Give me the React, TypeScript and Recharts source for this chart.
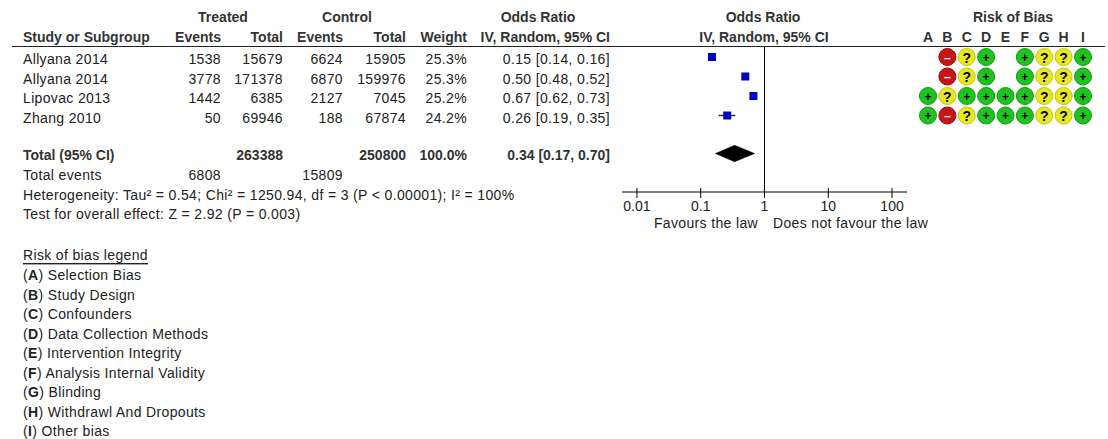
import React from "react";
import { ErrorBar, ReferenceLine, Scatter, ScatterChart, XAxis, YAxis } from "recharts";

// study rows
const studyNames = ["Allyana 2014", "Allyana 2014", "Lipovac 2013", "Zhang 2010"];
const treatedEvents = [1538, 3778, 1442, 50];
const treatedTotal = [15679, 171378, 6385, 69946];
const controlEvents = [6624, 6870, 2127, 188];
const controlTotal = [15905, 159976, 7045, 67874];
const weightPct = [25.3, 25.3, 25.2, 24.2];
const oddsRatio = [0.15, 0.5, 0.67, 0.26];
const ciLower = [0.14, 0.48, 0.62, 0.19];
const ciUpper = [0.16, 0.52, 0.73, 0.35];

// pooled
const pooledOR = 0.34;
const pooledLower = 0.17;
const pooledUpper = 0.7;
const totalTreated = 263388;
const totalControl = 250800;
const totalWeight = 100;
const eventsTreated = 6808;
const eventsControl = 15809;
const heterogeneityText =
  "Heterogeneity: Tau² = 0.54; Chi² = 1250.94, df = 3 (P < 0.00001); I² = 100%";
const overallEffectText = "Test for overall effect: Z = 2.92 (P = 0.003)";

const axisTicks = [0.01, 0.1, 1, 10, 100];

const biasDomains = ["A", "B", "C", "D", "E", "F", "G", "H", "I"];
const biasRatings = [
  ["", "-", "?", "+", "", "+", "?", "?", "+"],
  ["", "-", "?", "+", "", "+", "?", "?", "+"],
  ["+", "?", "+", "+", "+", "+", "?", "?", "+"],
  ["+", "-", "?", "+", "+", "+", "?", "?", "+"],
];
const legendItems = [
  ["A", "Selection Bias"],
  ["B", "Study Design"],
  ["C", "Confounders"],
  ["D", "Data Collection Methods"],
  ["E", "Intervention Integrity"],
  ["F", "Analysis Internal Validity"],
  ["G", "Blinding"],
  ["H", "Withdrawl And Dropouts"],
  ["I", "Other bias"],
];

const W = 1108;
const H = 439;
const FONT = '"Liberation Sans", Arial, sans-serif';
const TEXT = "#222";
const HEAD = "#333";

// plot box (pixels) and row scale
const PLOT_TOP = 47;
const PLOT_BOTTOM = 192;
const PLOT_LEFT = 622;
const PLOT_RIGHT = 907;
const ROW_DOMAIN: [number, number] = [-0.513, 6.923];
const TOTAL_ROW = 4.95;
const X_DOMAIN: [number, number] = [0.00583, 171.6];

const studyPoints = oddsRatio.map((v, i) => ({
  or: v,
  row: i,
  ci: [v - ciLower[i], ciUpper[i] - v],
}));

const diamondPoints = [
  { or: pooledLower, row: TOTAL_ROW },
  { or: pooledOR, row: TOTAL_ROW - 0.42 },
  { or: pooledUpper, row: TOTAL_ROW },
  { or: pooledOR, row: TOTAL_ROW + 0.42 },
];

const biasPoints = biasRatings.flatMap((r, row) =>
  r.map((rating, col) => ({ col, row, rating })).filter((p) => p.rating !== "")
);

const TEXT_ROWS = [59, 78.5, 98, 117.5];

const fmtOR = (v: number, lo: number, hi: number) =>
  `${v.toFixed(2)} [${lo.toFixed(2)}, ${hi.toFixed(2)}]`;

function Square(props: any) {
  const { cx, cy } = props;
  return <rect x={cx - 4} y={cy - 4} width={8} height={8} fill="#0000c0" />;
}

function Diamond(props: any) {
  const pts = (props.points || []).map((p: any) => `${p.x},${p.y}`).join(" ");
  return <polygon points={pts} fill="#000" stroke="#000" strokeWidth={0.5} />;
}

function OrTick(props: any) {
  const { x, y, payload } = props;
  return (
    <g>
      <line x1={x} x2={x} y1={y - 10} y2={y} stroke="#000" strokeWidth={1} />
      <text
        x={x}
        y={y + 8}
        textAnchor="middle"
        dominantBaseline="central"
        fontSize={14}
        fontFamily={FONT}
        fill={TEXT}
      >
        {String(payload.value)}
      </text>
    </g>
  );
}

function LetterTick(props: any) {
  const { x, y, payload } = props;
  return (
    <text
      x={x}
      y={y - 10}
      textAnchor="middle"
      dominantBaseline="central"
      fontSize={14}
      fontWeight="bold"
      fontFamily={FONT}
      fill={HEAD}
    >
      {biasDomains[payload.value]}
    </text>
  );
}

const biasColors: Record<string, [string, string]> = {
  "+": ["#1ec41e", "#0f9a0f"],
  "?": ["#e8e820", "#c4c40c"],
  "-": ["#c81414", "#9a0a0a"],
};

function BiasDot(props: any) {
  const { cx, cy, payload } = props;
  const [fill, edge] = biasColors[payload.rating];
  const isMinus = payload.rating === "-";
  return (
    <g>
      <circle cx={cx} cy={cy} r={8.5} fill={fill} stroke={edge} strokeWidth={1} />
      <text
        x={cx}
        y={cy + 0.5}
        textAnchor="middle"
        dominantBaseline="central"
        fontSize={payload.rating === "?" ? 14 : 12}
        fontWeight="bold"
        fontFamily={FONT}
        fill={isMinus ? "#fff" : "#000"}
      >
        {isMinus ? "–" : payload.rating}
      </text>
    </g>
  );
}

function T(props: any) {
  const { x, y, anchor = "start", bold = false, fill = TEXT, children, ...rest } = props;
  return (
    <text
      x={x}
      y={y}
      textAnchor={anchor}
      dominantBaseline="central"
      fontSize={14}
      fontFamily={FONT}
      fontWeight={bold ? "bold" : "normal"}
      letterSpacing={bold ? 0 : 0.35}
      fill={fill}
      {...rest}
    >
      {children}
    </text>
  );
}

export default function App() {
  const colX = { tEv: 221, tTot: 283, cEv: 343, cTot: 406, wt: 467, or: 610 };
  return (
    <div style={{ position: "absolute", left: 0, top: 0, width: W, height: H, background: "#fff" }}>
      {/* forest plot */}
      <div style={{ position: "absolute", left: 0, top: 0 }}>
        <ScatterChart
          width={W}
          height={H}
          margin={{ top: PLOT_TOP, bottom: H - PLOT_BOTTOM - 30, left: PLOT_LEFT, right: W - PLOT_RIGHT }}
        >
          <XAxis
            dataKey="or"
            type="number"
            scale="log"
            domain={X_DOMAIN}
            allowDataOverflow
            ticks={axisTicks}
            height={30}
            tickSize={6}
            tickMargin={0}
            tickLine={false}
            axisLine={{ stroke: "#000", strokeWidth: 1 }}
            tick={<OrTick />}
            interval={0}
          />
          <YAxis dataKey="row" type="number" domain={ROW_DOMAIN} reversed hide width={0} allowDataOverflow />
          <ReferenceLine x={1} stroke="#000" strokeWidth={1} />
          <Scatter data={studyPoints} shape={<Square />} isAnimationActive={false}>
            <ErrorBar dataKey="ci" direction="x" width={0} stroke="#333" strokeWidth={1.5} />
          </Scatter>
          <Scatter
            data={diamondPoints}
            shape={() => <g />}
            line={(p: any) => <Diamond {...p} />}
            lineType="joint"
            isAnimationActive={false}
          />
        </ScatterChart>
      </div>

      {/* risk of bias grid */}
      <div style={{ position: "absolute", left: 0, top: 0 }}>
        <ScatterChart
          width={W}
          height={H}
          margin={{ top: PLOT_TOP - 20, bottom: H - PLOT_BOTTOM, left: 918.3, right: W - 1092.7 }}
        >
          <XAxis
            dataKey="col"
            type="number"
            orientation="top"
            domain={[-0.5, 8.5]}
            ticks={biasDomains.map((_, i) => i)}
            interval={0}
            height={20}
            tickSize={0}
            tickMargin={0}
            axisLine={false}
            tickLine={false}
            tick={<LetterTick />}
          />
          <YAxis dataKey="row" type="number" domain={ROW_DOMAIN} reversed hide width={0} />
          <Scatter data={biasPoints} shape={<BiasDot />} isAnimationActive={false} />
        </ScatterChart>
      </div>

      {/* table text */}
      <svg width={W} height={H} style={{ position: "absolute", left: 0, top: 0, pointerEvents: "none" }}>
        <T x={223} y={17} anchor="middle" bold fill={HEAD}>Treated</T>
        <T x={347} y={17} anchor="middle" bold fill={HEAD}>Control</T>
        <T x={538} y={17} anchor="middle" bold fill={HEAD}>Odds Ratio</T>
        <T x={763} y={17} anchor="middle" bold fill={HEAD}>Odds Ratio</T>
        <T x={1013} y={17} anchor="middle" bold fill={HEAD}>Risk of Bias</T>

        <T x={23} y={37} bold fill={HEAD}>Study or Subgroup</T>
        <T x={colX.tEv} y={37} anchor="end" bold fill={HEAD}>Events</T>
        <T x={colX.tTot} y={37} anchor="end" bold fill={HEAD}>Total</T>
        <T x={colX.cEv} y={37} anchor="end" bold fill={HEAD}>Events</T>
        <T x={colX.cTot} y={37} anchor="end" bold fill={HEAD}>Total</T>
        <T x={colX.wt} y={37} anchor="end" bold fill={HEAD}>Weight</T>
        <T x={colX.or} y={37} anchor="end" bold fill={HEAD}>IV, Random, 95% CI</T>
        <T x={764} y={37} anchor="middle" bold fill={HEAD}>IV, Random, 95% CI</T>

        <line x1={12} x2={1105} y1={46.5} y2={46.5} stroke="#222" strokeWidth={1.2} />

        {studyNames.map((name, i) => (
          <g key={i}>
            <T x={23} y={TEXT_ROWS[i]}>{name}</T>
            <T x={colX.tEv} y={TEXT_ROWS[i]} anchor="end">{treatedEvents[i]}</T>
            <T x={colX.tTot} y={TEXT_ROWS[i]} anchor="end">{treatedTotal[i]}</T>
            <T x={colX.cEv} y={TEXT_ROWS[i]} anchor="end">{controlEvents[i]}</T>
            <T x={colX.cTot} y={TEXT_ROWS[i]} anchor="end">{controlTotal[i]}</T>
            <T x={colX.wt} y={TEXT_ROWS[i]} anchor="end">{weightPct[i].toFixed(1)}%</T>
            <T x={colX.or} y={TEXT_ROWS[i]} anchor="end">{fmtOR(oddsRatio[i], ciLower[i], ciUpper[i])}</T>
          </g>
        ))}

        <T x={23} y={155} bold fill={HEAD}>Total (95% CI)</T>
        <T x={colX.tTot} y={155} anchor="end" bold fill={HEAD}>{totalTreated}</T>
        <T x={colX.cTot} y={155} anchor="end" bold fill={HEAD}>{totalControl}</T>
        <T x={colX.wt} y={155} anchor="end" bold fill={HEAD}>{totalWeight.toFixed(1)}%</T>
        <T x={colX.or} y={155} anchor="end" bold fill={HEAD}>{fmtOR(pooledOR, pooledLower, pooledUpper)}</T>

        <T x={23} y={175}>Total events</T>
        <T x={colX.tEv} y={175} anchor="end">{eventsTreated}</T>
        <T x={colX.cEv} y={175} anchor="end">{eventsControl}</T>
        <T x={23} y={195}>{heterogeneityText}</T>
        <T x={23} y={214}>{overallEffectText}</T>

        <T x={758} y={223} anchor="end">Favours the law</T>
        <T x={773} y={223}>Does not favour the law</T>

        <T x={23} y={255} textDecoration="underline">Risk of bias legend</T>
        {legendItems.map(([k, label], i) => (
          <T key={k} x={23} y={275 + 19.5 * i}>
            (<tspan fontWeight="bold">{k}</tspan>) {label}
          </T>
        ))}
      </svg>
    </div>
  );
}
